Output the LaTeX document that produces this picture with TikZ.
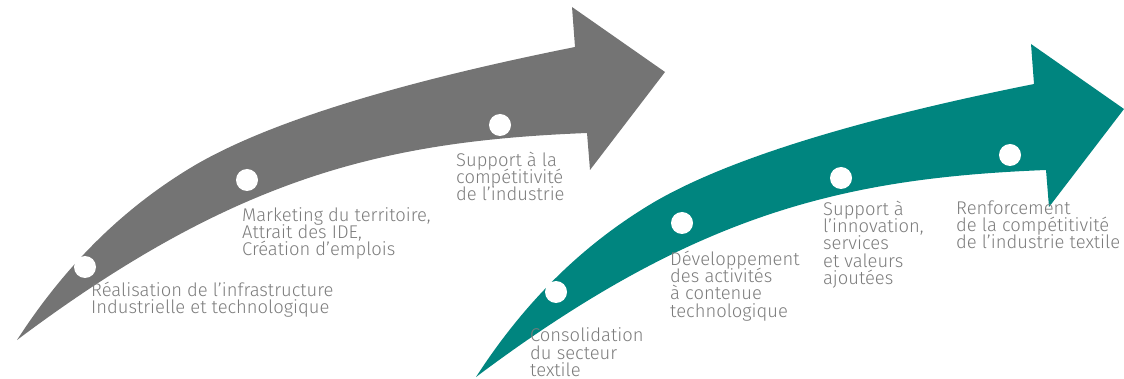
\documentclass[tikz,border=0pt]{standalone}
\usepackage{fontspec}
\setmainfont{Fira Sans}[UprightFont={* Light}]
\definecolor{arrowgray}{HTML}{747474}
\definecolor{tealarrow}{HTML}{00857F}
\definecolor{labelgray}{HTML}{7C7C7C}
\newcommand\lblfont{\fontsize{18.4}{17.3}\selectfont\lineskiplimit=-50pt\relax\lineskip=0pt\relax}
\newcommand\firststrut{\rule{0pt}{16pt}}
\newcommand\arrowshape{%
  (17,340) .. controls (72,255) and (132,204) .. (187,170)
  .. controls (277,114) and (445,73) .. (575,47)
  -- (572,7) -- (665,72) -- (590,170) -- (587,133)
  .. controls (387,141) and (237,175) .. (17,340)
  -- cycle}
\begin{document}
\begin{tikzpicture}[x=1pt,y=-1pt,
  dot/.style={circle,fill=white,minimum size=22pt,inner sep=0pt},
  lbl/.style={anchor=north west,inner sep=0pt,align=left,text=labelgray,
    font=\lblfont}]
\useasboundingbox (0,0) rectangle (1124,379);
% grey arrow
\fill[arrowgray] \arrowshape;
% teal arrow
\begin{scope}[shift={(459,37)}]
\fill[tealarrow] \arrowshape;
\end{scope}
% dots
\node[dot] (g1) at (85,267) {};
\node[dot] (g2) at (247,180) {};
\node[dot] (g3) at (500,125) {};
\node[dot] (t1) at (556,292) {};
\node[dot] (t2) at (682,223) {};
\node[dot] (t3) at (841,178) {};
\node[dot] (t4) at (1010,155) {};
% labels
\node[lbl] (lg1) at (91,280) {\firststrut Réalisation de l’infrastructure\\Industrielle et technologique};
\node[lbl] (lg2) at (242,205) {\firststrut Marketing du territoire,\\Attrait des IDE,\\Création d’emplois};
\node[lbl] (lg3) at (456,150) {\firststrut Support à la\\compétitivité\\de l’industrie};
\node[lbl] (lt1) at (530,325.5) {\firststrut Consolidation\\du secteur\\textile};
\node[lbl] (lt2) at (670,249) {\firststrut Développement\\des activités\\à contenue\\technologique};
\node[lbl] (lt3) at (823,199) {\firststrut Support à\\l’innovation,\\services\\et valeurs\\ajoutées};
\node[lbl] (lt4) at (956,198) {\firststrut Renforcement\\de la compétitivité\\de l’industrie textile};
\end{tikzpicture}
\end{document}
